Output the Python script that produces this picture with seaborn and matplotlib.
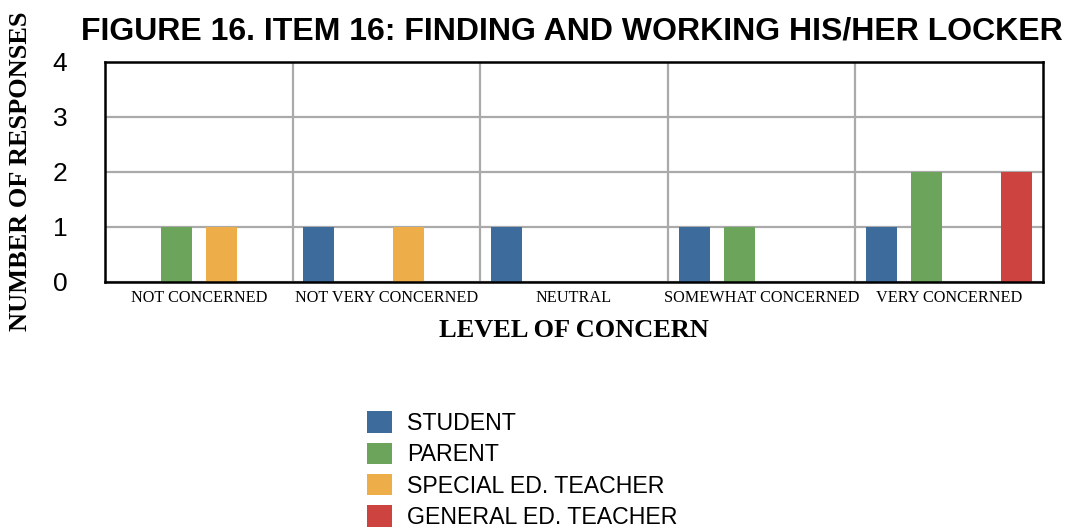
import pandas as pd
import matplotlib.pyplot as plt
import seaborn as sns
from matplotlib.patches import Patch

# ---------------------------------------------------------
# Datos
# ---------------------------------------------------------
niveles = ["NOT CONCERNED", "NOT VERY CONCERNED", "NEUTRAL",
           "SOMEWHAT CONCERNED", "VERY CONCERNED"]
grupos = ["STUDENT", "PARENT", "SPECIAL ED. TEACHER", "GENERAL ED. TEACHER"]

student = [0, 1, 1, 1, 1]
parent = [1, 0, 0, 1, 2]
special_ed = [1, 1, 0, 0, 0]
general_ed = [0, 0, 0, 0, 2]

colores = ["#3d6b9c", "#6ba45a", "#edae4a", "#cd4340"]

filas = []
for grupo, valores in zip(grupos, [student, parent, special_ed, general_ed]):
    for nivel, v in zip(niveles, valores):
        filas.append({"nivel": nivel, "grupo": grupo, "respuestas": v})
df = pd.DataFrame(filas)

# ---------------------------------------------------------
# Gráfico
# ---------------------------------------------------------
sns.set_style("white")
plt.rcParams["font.family"] = ["Liberation Sans", "DejaVu Sans"]
plt.rcParams["text.color"] = "black"
plt.rcParams["xtick.color"] = "black"
plt.rcParams["ytick.color"] = "black"
plt.rcParams["axes.labelcolor"] = "black"

fig = plt.figure(figsize=(10.69, 5.29), dpi=100)
ax = fig.add_axes([0.0982, 0.467, 0.8775, 0.416])

sns.barplot(data=df, x="nivel", y="respuestas", hue="grupo",
            order=niveles, hue_order=grupos, palette=colores, saturation=1,
            width=0.96, gap=0.31, linewidth=0, legend=False, ax=ax)

ax.set_xlim(-0.5, len(niveles) - 0.5)
ax.set_ylim(0, 4)
ax.set_yticks([0, 1, 2, 3, 4])
ax.set_xticks([i + 0.5 for i in range(len(niveles) - 1)], minor=True)
ax.grid(True, axis="y", color="#aaaaaa", linewidth=1.6)
ax.grid(True, axis="x", which="minor", color="#aaaaaa", linewidth=1.6)
ax.set_axisbelow(True)
for s in ax.spines.values():
    s.set_color("black")
    s.set_linewidth(1.8)
    s.set_zorder(5)

ax.tick_params(axis="y", length=0, labelsize=19, pad=27)
ax.tick_params(axis="x", which="both", length=0, pad=6)
for lbl in ax.get_xticklabels():
    lbl.set_fontfamily(["Liberation Serif"])
    lbl.set_fontsize(11.7)

ax.set_xlabel("LEVEL OF CONCERN", fontfamily=["Liberation Serif"],
              fontsize=19, fontweight="bold", labelpad=9)
ax.set_ylabel("")
fig.text(0.019, 0.677, "NUMBER OF RESPONSES", rotation=90,
         ha="center", va="center", fontfamily=["Liberation Serif"],
         fontsize=19, fontweight="bold")

fig.text(0.535, 0.94, "FIGURE 16. ITEM 16: FINDING AND WORKING HIS/HER LOCKER",
         ha="center", va="center", fontsize=23, fontweight="bold")

handles = [Patch(facecolor=c, edgecolor="none", label=g)
           for c, g in zip(colores, grupos)]
fig.legend(handles=handles, loc="upper left", bbox_to_anchor=(0.335, 0.24),
           frameon=False, fontsize=16.7, handlelength=1.05, handleheight=1.05,
           handletextpad=0.65, labelspacing=0.33, borderaxespad=0)

plt.savefig("out.png", dpi=100)
